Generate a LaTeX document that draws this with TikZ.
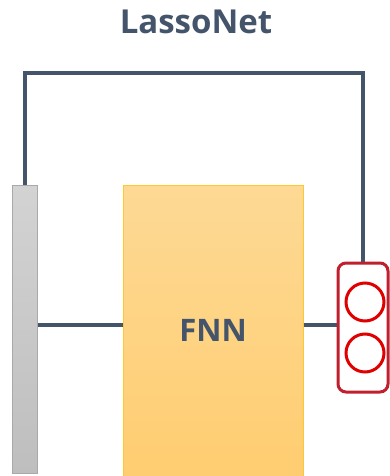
\documentclass[tikz,border=0pt]{standalone}
\usepackage{fontspec}
\setmainfont{Open Sans}
\definecolor{slate}{HTML}{44546A}
\definecolor{bartop}{HTML}{D3D3D3}
\definecolor{barbot}{HTML}{BEBEBE}
\definecolor{barline}{HTML}{A9A9A9}
\definecolor{fnntop}{HTML}{FDD995}
\definecolor{fnnbot}{HTML}{FFCD70}
\definecolor{fnnline}{HTML}{FFC82F}
\definecolor{outline}{HTML}{C0202E}
\definecolor{circred}{HTML}{E00000}
\begin{document}
\begin{tikzpicture}[x=1pt,y=-1pt,
  titletext/.style={font=\fontsize{33}{36}\selectfont\bfseries, text=slate},
  inbar/.style={draw=barline, line width=1pt, top color=bartop, bottom color=barbot, minimum width=25pt, minimum height=288pt, inner sep=0pt},
  fnnbox/.style={draw=fnnline, line width=1pt, top color=fnntop, bottom color=fnnbot, minimum width=180pt, minimum height=296pt, inner sep=0pt},
  outbox/.style={draw=outline, line width=3pt, fill=white, rounded corners=8pt, minimum width=50pt, minimum height=129pt, inner sep=0pt},
  unit/.style={circle, draw=circred, line width=3pt, minimum size=38pt, inner sep=0pt},
  conn/.style={draw=slate, line width=4pt},
  fnntext/.style={font=\fontsize{31}{34}\selectfont\bfseries, text=slate}
]
\useasboundingbox (0,0) rectangle (390,476);
\node[titletext] (title) at (196,22) {LassoNet};
\node[inbar] (in) at (24.5,329) {};
\node[fnnbox] (fnn) at (213,333) {};
\node[fnntext] (fnnlabel) at (213,330) {FNN};
\node[outbox] (out) at (363,327.5) {};
\node[unit] (u1) at (365,302) {};
\node[unit] (u2) at (365,353) {};
\coordinate (top) at (0,73);
\coordinate (mid) at (0,325);
\draw[conn] (in.north) -- (in.north |- top) -| (out.north);
\draw[conn] (in.east |- mid) -- (fnn.west |- mid);
\draw[conn] (fnn.east |- mid) -- (out.west |- mid);
\end{tikzpicture}
\end{document}
